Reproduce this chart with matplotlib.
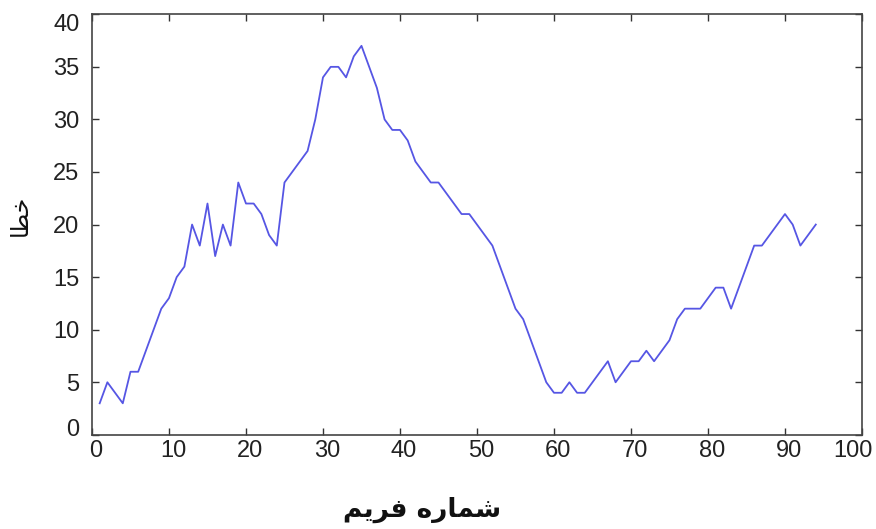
import matplotlib

matplotlib.use("Agg")
import matplotlib.pyplot as plt  # noqa: E402
from matplotlib.transforms import ScaledTranslation  # noqa: E402

# frame number vs. error
frames = list(range(1, 95))
errors = [
    3, 5, 4, 3, 6, 6, 8, 10, 12, 13,
    15, 16, 20, 18, 22, 17, 20, 18, 24, 22,
    22, 21, 19, 18, 24, 25, 26, 27, 30, 34,
    35, 35, 34, 36, 37, 35, 33, 30, 29, 29,
    28, 26, 25, 24, 24, 23, 22, 21, 21, 20,
    19, 18, 16, 14, 12, 11, 9, 7, 5, 4,
    4, 5, 4, 4, 5, 6, 7, 5, 6, 7,
    7, 8, 7, 8, 9, 11, 12, 12, 12, 13,
    14, 14, 12, 14, 16, 18, 18, 19, 20, 21,
    20, 18, 19, 20,
]
x_ticks = list(range(0, 101, 10))
y_ticks = list(range(0, 41, 5))

# Persian labels, pre-shaped with presentation forms (visual order)
xlabel = "\uFEE2\uFBFE\uFEAE\uFED3 \uFEE9\uFEAD\uFE8E\uFEE4\uFEB7"  # شماره فریم
ylabel = "\uFE8E\uFEC4\uFEA7"  # خطا

plt.rcParams["font.family"] = ["Liberation Sans", "DejaVu Sans"]

fig = plt.figure(figsize=(8.76, 5.29), dpi=100)
ax = fig.add_axes([0.105, 0.178, 0.879, 0.795])

ax.plot(frames, errors, color="#5656e4", linewidth=1.3)

ax.set_xlim(0, 100)
ax.set_ylim(0, 40)
ax.set_xticks(x_ticks)
ax.set_yticks(y_ticks)
ax.tick_params(direction="in", top=True, right=True, length=5, width=1,
               labelsize=17, colors="#333333", labelcolor="#222222")
ax.tick_params(axis="x", pad=4)
ax.tick_params(axis="y", pad=9)
for sp in ax.spines.values():
    sp.set_color("#444444")
    sp.set_linewidth(1.2)

# nudge tick labels the way the original export placed them
xl = ax.get_xticklabels()
for i, lbl in enumerate(xl):
    dx = -9 if i == len(xl) - 1 else 4
    lbl.set_transform(lbl.get_transform() + ScaledTranslation(dx / 100, 0, fig.dpi_scale_trans))
yl = ax.get_yticklabels()
yl[0].set_transform(yl[0].get_transform() + ScaledTranslation(0, 7 / 100, fig.dpi_scale_trans))
yl[-1].set_transform(yl[-1].get_transform() + ScaledTranslation(0, -8 / 100, fig.dpi_scale_trans))

fig.text(422 / 876, 1 - 510 / 529, xlabel, ha="center", va="center",
         fontsize=19, fontweight="bold", family="DejaVu Sans", color="#111111")
fig.text(20 / 876, 1 - 215 / 529, ylabel, ha="center", va="center",
         rotation=90, fontsize=17, family="DejaVu Sans", color="#111111")

fig.savefig("out.png", dpi=100)
